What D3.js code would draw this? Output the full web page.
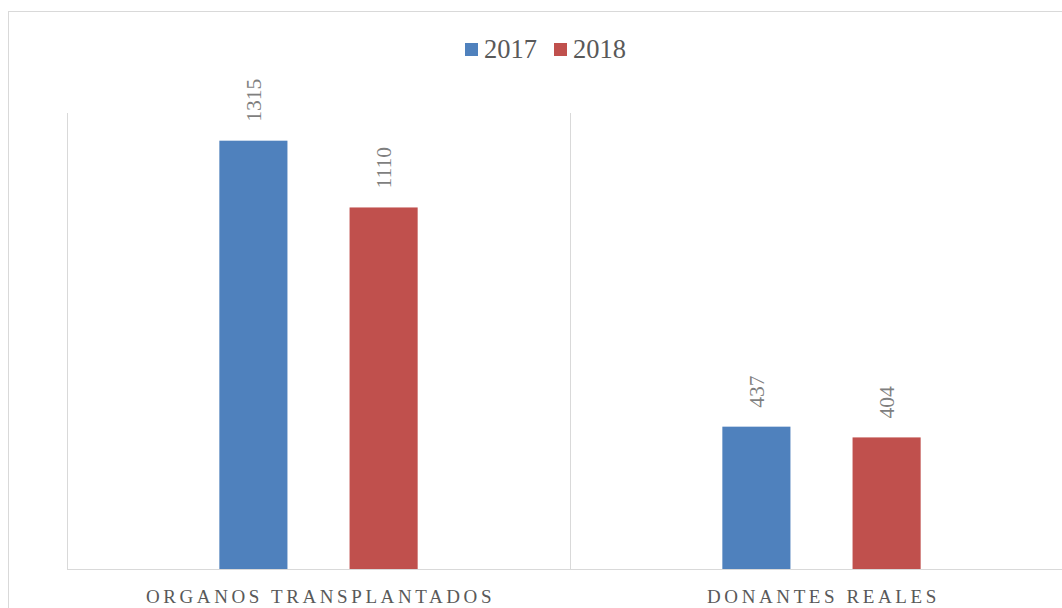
<!DOCTYPE html>
<html>
<head>
<meta charset="utf-8">
<script src="https://cdn.jsdelivr.net/npm/d3@7"></script>
<style>
  body { margin: 0; background: #fff; }
  svg { display: block; font-family: "Liberation Serif", "DejaVu Serif", serif; }
</style>
</head>
<body>
<svg id="chart"></svg>
<script>
// data
const categories = ["ORGANOS TRANSPLANTADOS", "DONANTES REALES"];
const series = ["2017", "2018"];
const values2017 = [1315, 437];
const values2018 = [1110, 404];
const colors = ["#4f81bd", "#c0504d"];

const W = 1062, H = 608;
const margin = {top: 113, right: -11, bottom: 39, left: 67};
const width = W - margin.left - margin.right;
const height = H - margin.top - margin.bottom;

const svg = d3.select("#chart").attr("width", W).attr("height", H);

// outer border of the chart frame
svg.append("rect")
  .attr("x", 8.5).attr("y", 11.5)
  .attr("width", W + 20).attr("height", H + 20)
  .attr("fill", "none").attr("stroke", "#d9d9d9");

const g = svg.append("g").attr("transform", "translate(" + margin.left + "," + margin.top + ")");

const x0 = d3.scaleBand().domain(categories).range([0, width]).padding(0);
const x1 = d3.scaleBand().domain(series).range([0, x0.bandwidth()])
  .paddingInner(0.477).paddingOuter(1.17);
const y = d3.scaleLinear().domain([0, 1400]).range([height, 0]);
const color = d3.scaleOrdinal().domain(series).range(colors);

const rows = categories.map((c, i) => ({cat: c, vals: [
  {s: "2017", v: values2017[i]},
  {s: "2018", v: values2018[i]}
]}));

// vertical separators
g.selectAll(".sep")
  .data(d3.range(categories.length + 1))
  .enter().append("line")
  .attr("x1", d => Math.round(d * x0.bandwidth()) + 0.5)
  .attr("x2", d => Math.round(d * x0.bandwidth()) + 0.5)
  .attr("y1", 0).attr("y2", height)
  .attr("stroke", "#d9d9d9");

const cat = g.selectAll(".cat")
  .data(rows)
  .enter().append("g")
  .attr("transform", d => "translate(" + x0(d.cat) + ",0)");

cat.selectAll("rect")
  .data(d => d.vals)
  .enter().append("rect")
  .attr("x", d => x1(d.s))
  .attr("y", d => y(d.v))
  .attr("width", x1.bandwidth())
  .attr("height", d => height - y(d.v))
  .attr("fill", d => color(d.s));

cat.selectAll(".lbl")
  .data(d => d.vals)
  .enter().append("text")
  .attr("transform", d => "translate(" + (x1(d.s) + x1.bandwidth() / 2 + 7.5) + "," + (y(d.v) - 19) + ") rotate(-90)")
  .attr("font-size", 21.5)
  .attr("fill", "#7f7f7f")
  .text(d => d.v);

// baseline
g.append("line")
  .attr("x1", 0).attr("x2", width)
  .attr("y1", height + 0.5).attr("y2", height + 0.5)
  .attr("stroke", "#d9d9d9");

// category labels
g.selectAll(".catlbl")
  .data(categories)
  .enter().append("text")
  .attr("x", d => x0(d) + x0.bandwidth() / 2 + 2)
  .attr("y", height + 34)
  .attr("text-anchor", "middle")
  .attr("font-size", 19)
  .attr("letter-spacing", "3.6px")
  .attr("fill", "#595959")
  .text(d => d);

// legend
const legend = svg.append("g").attr("transform", "translate(465,49)");
const item = legend.selectAll(".item")
  .data(series)
  .enter().append("g")
  .attr("transform", (d, i) => "translate(" + (i * 89) + ",0)");
item.append("rect")
  .attr("x", 0).attr("y", -6).attr("width", 13).attr("height", 13)
  .attr("fill", d => color(d));
item.append("text")
  .attr("x", 19).attr("y", 9)
  .attr("font-size", 26.5)
  .attr("fill", "#595959")
  .text(d => d);
</script>
</body>
</html>
